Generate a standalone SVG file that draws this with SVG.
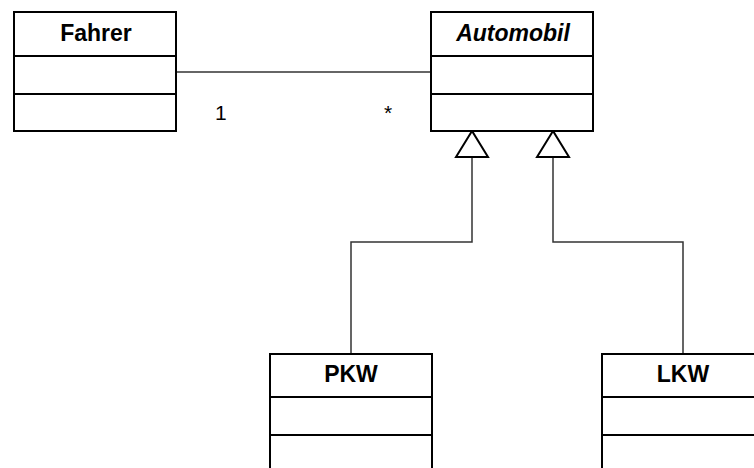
<svg xmlns="http://www.w3.org/2000/svg" width="754" height="468" viewBox="0 0 754 468">
<style>
.box{fill:#fff;stroke:#000;stroke-width:2}
.sep{stroke:#000;stroke-width:2}
.t{font-family:"Liberation Sans",Arial,sans-serif;font-size:23px;font-weight:bold;text-anchor:middle;fill:#000}
.lbl{font-family:"Liberation Sans",Arial,sans-serif;font-size:21px;fill:#000}
.con{fill:none;stroke:#333;stroke-width:1.5}
.tri{fill:#fff;stroke:#000;stroke-width:2;stroke-linejoin:miter}
</style>
<rect width="754" height="468" fill="#fff"/>
<g id="connectors">
<line class="con" x1="176" y1="72" x2="431" y2="72"/>
<polyline class="con" points="472,157 472,242 351,242 351,354"/>
<polyline class="con" points="553,157 553,242 683,242 683,354"/>
<polygon class="tri" points="472,131 456,157 488,157"/>
<polygon class="tri" points="553,131 537,157 569,157"/>
<text class="lbl" x="215" y="120">1</text>
<text class="lbl" x="384" y="120">*</text>
</g>
<g id="Fahrer">
<rect class="box" x="14" y="12" width="162" height="119"/>
<line class="sep" x1="14" y1="56" x2="176" y2="56"/>
<line class="sep" x1="14" y1="94" x2="176" y2="94"/>
<text class="t" x="96" y="41">Fahrer</text>
</g>
<g id="Automobil">
<rect class="box" x="431" y="12" width="162" height="119"/>
<line class="sep" x1="431" y1="56" x2="593" y2="56"/>
<line class="sep" x1="431" y1="94" x2="593" y2="94"/>
<text class="t" x="513" y="41" font-style="italic">Automobil</text>
</g>
<g id="PKW">
<rect class="box" x="270" y="354" width="162" height="119"/>
<line class="sep" x1="270" y1="397" x2="432" y2="397"/>
<line class="sep" x1="270" y1="435" x2="432" y2="435"/>
<text class="t" x="351" y="382">PKW</text>
</g>
<g id="LKW">
<rect class="box" x="602" y="354" width="162" height="119"/>
<line class="sep" x1="602" y1="397" x2="764" y2="397"/>
<line class="sep" x1="602" y1="435" x2="764" y2="435"/>
<text class="t" x="683" y="382">LKW</text>
</g>
</svg>
